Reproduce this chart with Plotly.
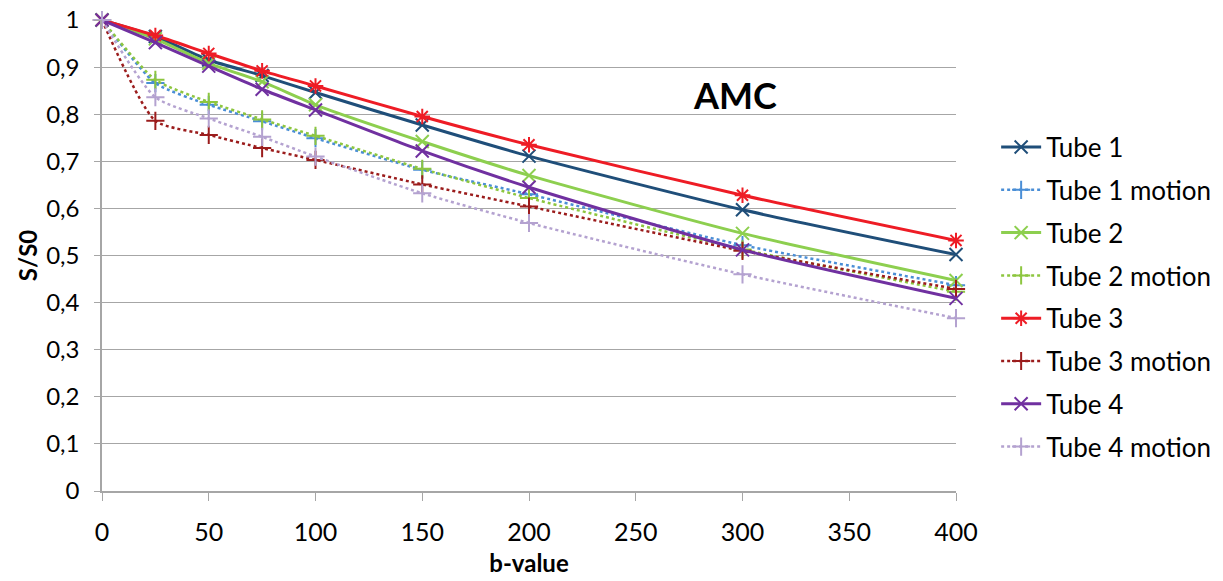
import plotly.graph_objects as go

b_values = [0, 25, 50, 75, 100, 150, 200, 300, 400]

tube1 = [1, 0.965, 0.915, 0.882, 0.846, 0.777, 0.711, 0.597, 0.502]
tube1_motion = [1, 0.866, 0.820, 0.785, 0.749, 0.682, 0.630, 0.522, 0.437]
tube2 = [1, 0.960, 0.908, 0.869, 0.820, 0.742, 0.670, 0.547, 0.447]
tube2_motion = [1, 0.873, 0.826, 0.789, 0.754, 0.684, 0.622, 0.513, 0.423]
tube3 = [1, 0.967, 0.929, 0.892, 0.860, 0.795, 0.735, 0.628, 0.532]
tube3_motion = [1, 0.786, 0.756, 0.728, 0.703, 0.651, 0.604, 0.510, 0.429]
tube4 = [1, 0.952, 0.902, 0.853, 0.809, 0.722, 0.645, 0.512, 0.409]
tube4_motion = [1, 0.836, 0.791, 0.752, 0.710, 0.632, 0.569, 0.460, 0.367]

series_names = ["Tube 1", "Tube 1 motion", "Tube 2", "Tube 2 motion",
                "Tube 3", "Tube 3 motion", "Tube 4", "Tube 4 motion"]
series_values = [tube1, tube1_motion, tube2, tube2_motion,
                 tube3, tube3_motion, tube4, tube4_motion]

y_tickvals = [0, 0.1, 0.2, 0.3, 0.4, 0.5, 0.6, 0.7, 0.8, 0.9, 1]
y_ticktext = ["0", "0,1", "0,2", "0,3", "0,4", "0,5", "0,6", "0,7", "0,8", "0,9", "1"]
x_tickvals = [0, 50, 100, 150, 200, 250, 300, 350, 400]

styles = [
    dict(color="#1F4E79", dash="solid", symbol="x-thin", width=3),
    dict(color="#4A8ED6", dash="dot", symbol="cross-thin", width=2.5),
    dict(color="#8DCF4F", dash="solid", symbol="x-thin", width=3),
    dict(color="#8DC63F", dash="dot", symbol="cross-thin", width=2.5),
    dict(color="#EE1C25", dash="solid", symbol="asterisk-open", width=3),
    dict(color="#9B1C1C", dash="dot", symbol="cross-thin", width=2.5),
    dict(color="#7030A0", dash="solid", symbol="x-thin", width=3),
    dict(color="#B4A2D0", dash="dot", symbol="cross-thin", width=2.5),
]

fig = go.Figure()
for i, (name, vals, st) in enumerate(zip(series_names, series_values, styles)):
    fig.add_trace(go.Scatter(
        x=b_values, y=vals, name=name, mode="lines+markers",
        line=dict(color=st["color"], width=st["width"], dash=st["dash"], shape="spline", smoothing=0.6),
        marker=dict(symbol=st["symbol"], size=13,
                    line=dict(color=st["color"], width=2)),
        legendgroup=f"g{i}",
        cliponaxis=False,
    ))

font_family = "Lato, 'Open Sans', sans-serif"

fig.update_layout(
    width=1223, height=581,
    margin=dict(l=102, r=267, t=20, b=90, autoexpand=False),
    paper_bgcolor="white", plot_bgcolor="white",
    font=dict(family=font_family, size=22, color="#000000"),
    legend=dict(x=1.047, y=0.78, xanchor="left", yanchor="top",
                font=dict(size=26, family=font_family),
                tracegroupgap=6, itemwidth=40, bgcolor="rgba(0,0,0,0)"),
    xaxis=dict(range=[0, 400], tickvals=x_tickvals, showgrid=False,
               showline=True, linecolor="#A6A6A6", linewidth=1.5,
               ticks="outside", tickcolor="#A6A6A6", ticklen=8,
               tickfont=dict(size=25), automargin=False, ticklabelstandoff=10,
               ticklabeloverflow="allow",
               title=dict(text="<b>b-value</b>", font=dict(size=24), standoff=10),
               zeroline=False),
    yaxis=dict(range=[0, 1], tickvals=y_tickvals, ticktext=y_ticktext,
               showgrid=True, gridcolor="#A6A6A6", gridwidth=1.2,
               showline=True, linecolor="#A6A6A6", linewidth=1.5,
               ticks="outside", tickcolor="#A6A6A6", ticklen=6,
               tickfont=dict(size=24), automargin=False, ticklabelstandoff=10,
               ticklabeloverflow="allow",
               title=dict(text="<b>S/S0</b>", font=dict(size=24), standoff=2),
               zeroline=False),
    annotations=[dict(text="<b>AMC</b>", x=0.741, y=0.841, xref="paper", yref="paper",
                      showarrow=False, xanchor="center", yanchor="middle",
                      font=dict(size=36, family=font_family))],
)

fig.write_html("out.html",
               config={"displayModeBar": False},
               post_script="document.body.style.margin='0';document.body.style.overflow='hidden';")
